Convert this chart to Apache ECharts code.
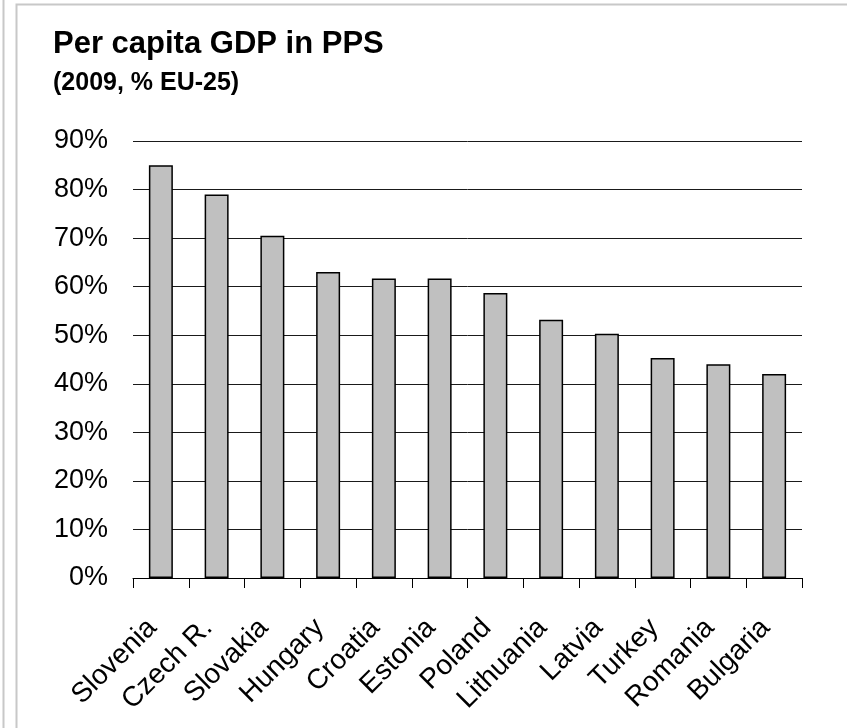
<!DOCTYPE html>
<html>
<head>
<meta charset="utf-8">
<script src="https://cdn.jsdelivr.net/npm/echarts@6/dist/echarts.min.js"></script>
<style>
html,body{margin:0;padding:0;background:#fff;}
#chart{width:847px;height:728px;}
</style>
</head>
<body>
<div id="chart"></div>
<script>
const titleText = 'Per capita GDP in PPS';
const subtitleText = '(2009, % EU-25)';
const countries = ['Slovenia','Czech R.','Slovakia','Hungary','Croatia','Estonia','Poland','Lithuania','Latvia','Turkey','Romania','Bulgaria'];
const gdpShare = [85, 79, 70.5, 63, 61.7, 61.7, 58.7, 53.2, 50.3, 45.3, 44, 42];
const yTicks = [0, 10, 20, 30, 40, 50, 60, 70, 80, 90];

const chart = echarts.init(document.getElementById('chart'), null, {renderer:'canvas'});
const font = 'Arial, "Liberation Sans", Helvetica, sans-serif';
chart.setOption({
  animation: false,
  backgroundColor: '#fff',
  graphic: [
    {type:'line', shape:{x1:3.5,y1:0,x2:3.5,y2:728}, style:{stroke:'#c8c8c8', lineWidth:2}},
    {type:'rect', shape:{x:16.5,y:4.5,width:900,height:800}, style:{fill:'none', stroke:'#c8c8c8', lineWidth:2}},
    {type:'text', left:53, top:29, style:{text:titleText, font:'bold 31px ' + font, fill:'#000'}},
    {type:'text', left:53, top:71, style:{text:subtitleText, font:'bold 25px ' + font, fill:'#000'}}
  ],
  grid: {left:133, right:45, top:141, bottom:150, containLabel:false},
  xAxis: {
    type:'category',
    data: countries,
    boundaryGap: true,
    axisLine: {show:true, lineStyle:{color:'#000', width:1}},
    axisTick: {show:true, alignWithLabel:false, length:10, lineStyle:{color:'#000', width:1}},
    axisLabel: {rotate:45, fontSize:28, fontFamily:font, color:'#000', margin:37, interval:0, padding:[0,12,0,0]}
  },
  yAxis: {
    type:'value',
    min: yTicks[0],
    max: yTicks[yTicks.length-1],
    interval: yTicks[1]-yTicks[0],
    axisLine: {show:false},
    axisTick: {show:false},
    splitLine: {show:true, lineStyle:{color:'#1a1a1a', width:1}},
    axisLabel: {formatter:'{value}%', fontSize:27, fontFamily:font, color:'#000', margin:25}
  },
  series: [{
    type:'bar',
    data: gdpShare,
    barWidth:'43%',
    itemStyle:{color:'#c0c0c0', borderColor:'#000', borderWidth:1.5}
  }]
});
</script>
</body>
</html>
